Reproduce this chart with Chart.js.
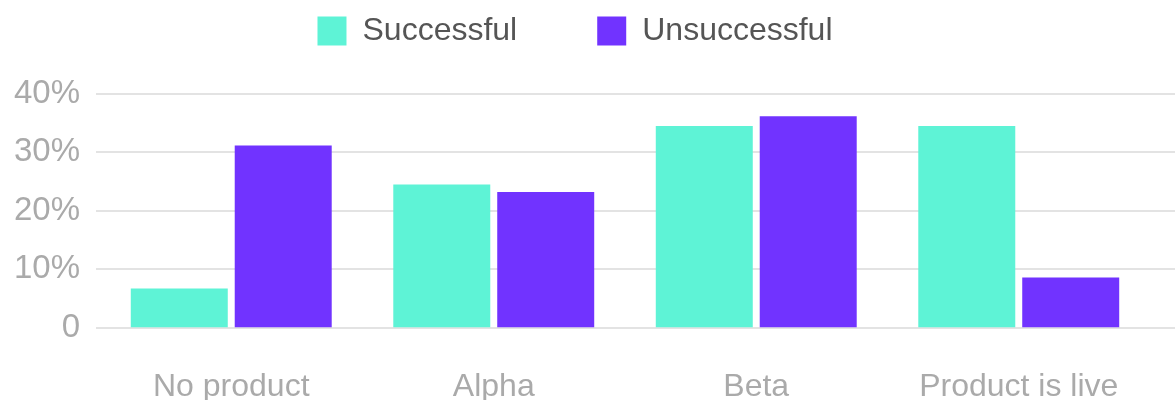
<!DOCTYPE html>
<html>
<head>
<meta charset="utf-8">
<script src="https://cdn.jsdelivr.net/npm/chart.js@4/dist/chart.umd.min.js"></script>
<style>
  html, body { margin: 0; padding: 0; background: #fff; overflow: hidden; }
  canvas { display: block; }
</style>
</head>
<body>
<canvas id="chart" width="1175" height="404"></canvas>
<script>
const categories = ["No product", "Alpha", "Beta", "Product is live"];
const successful = [6.7, 24.5, 34.5, 34.5];
const unsuccessful = [31.2, 23.2, 36.2, 8.6];
const yTicks = [0, 10, 20, 30, 40];

const FONT = "'Liberation Sans', Arial, sans-serif";

// horizontal grid lines run past the plot area, from the tick labels to the page edge
const wideGrid = {
  id: "wideGrid",
  beforeDatasetsDraw(chart) {
    const y = chart.scales.y;
    const ctx = chart.ctx;
    ctx.save();
    ctx.strokeStyle = "#e3e3e3";
    ctx.lineWidth = 2;
    y.ticks.forEach(t => {
      const py = Math.round(y.getPixelForValue(t.value));
      ctx.beginPath();
      ctx.moveTo(96, py);
      ctx.lineTo(chart.width, py);
      ctx.stroke();
    });
    ctx.restore();
  }
};

new Chart(document.getElementById("chart").getContext("2d"), {
  type: "bar",
  data: {
    labels: categories,
    datasets: [
      {
        label: "Successful",
        data: successful,
        backgroundColor: "#5ef3d6",
        categoryPercentage: 0.792,
        barPercentage: 0.933
      },
      {
        label: "Unsuccessful",
        data: unsuccessful,
        backgroundColor: "#7133ff",
        categoryPercentage: 0.792,
        barPercentage: 0.933
      }
    ]
  },
  options: {
    responsive: false,
    animation: false,
    layout: { padding: { top: -65, right: 25, left: 0, bottom: -42 } },
    plugins: {
      legend: {
        position: "top",
        align: "center",
        labels: {
          boxWidth: 29,
          boxHeight: 29,
          padding: 80,
          color: "#555",
          font: { family: FONT, size: 32 }
        }
      },
      title: {
        display: true,
        text: " ",
        weight: 500,
        font: { size: 10 },
        padding: { top: 0, bottom: 25 }
      },
      tooltip: { enabled: false }
    },
    scales: {
      x: {
        grid: { display: false, drawTicks: false },
        border: { display: false },
        ticks: {
          color: "#aaa",
          padding: 40,
          font: { family: FONT, size: 32 }
        }
      },
      y: {
        min: 0,
        max: 40,
        afterBuildTicks(scale) {
          scale.ticks = yTicks.map(v => ({ value: v }));
        },
        afterFit(scale) { scale.width = 100; },
        grid: { display: false, drawTicks: false },
        border: { display: false },
        ticks: {
          color: "#aaa",
          padding: 20,
          font: { family: FONT, size: 33 },
          callback: v => (v === 0 ? "0" : v + "%")
        }
      }
    }
  },
  plugins: [wideGrid]
});
</script>
</body>
</html>
